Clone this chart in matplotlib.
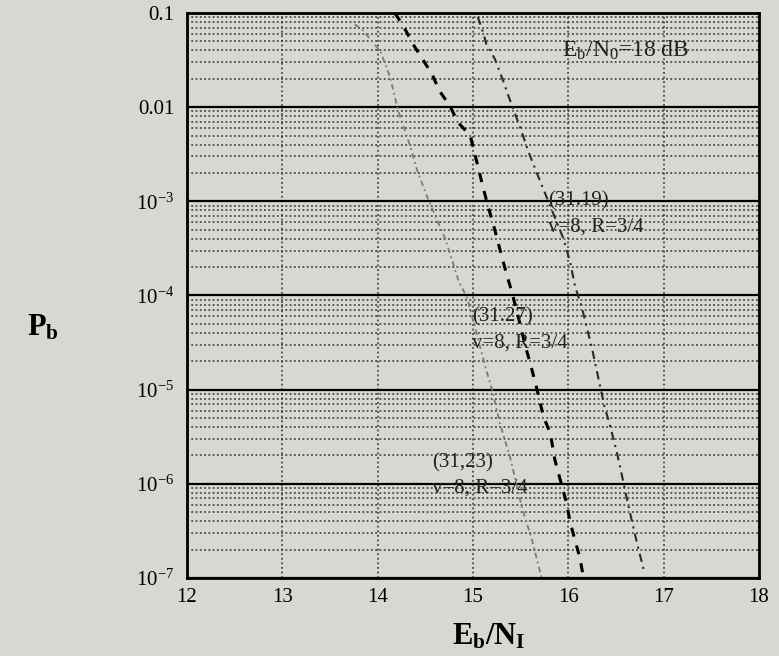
import numpy as np
import matplotlib
matplotlib.use("Agg")
import matplotlib.pyplot as plt
from matplotlib.ticker import LogLocator, NullFormatter

plt.rcParams['font.family'] = ['Liberation Serif', 'DejaVu Serif']
plt.rcParams['mathtext.fontset'] = 'custom'
plt.rcParams['mathtext.rm'] = 'Liberation Serif'
plt.rcParams['mathtext.it'] = 'Liberation Serif:italic'
plt.rcParams['mathtext.bf'] = 'Liberation Serif:bold'

# ---- data ----
# (31,23) code curve (light)
x_23 = [13.76, 13.85, 14.03, 14.13, 14.21, 14.34, 14.42, 14.53, 14.71, 14.85,
        14.94, 15.13, 15.20, 15.28, 15.39, 15.51, 15.62, 15.72]
logp_23 = [-1.12, -1.19, -1.41, -1.68, -2.02, -2.41, -2.69, -2.98, -3.40, -3.85,
           -4.03, -4.76, -5.00, -5.35, -5.72, -6.24, -6.60, -7.00]

# (31,27) code curve (heavy dashed)
x_27 = [14.18, 14.27, 14.37, 14.47, 14.57, 14.65, 14.76, 14.84, 14.97, 15.02,
        15.11, 15.16, 15.22, 15.30, 15.36, 15.41, 15.49, 15.55, 15.60, 15.66,
        15.74, 15.81, 15.86, 15.98, 16.02, 16.07, 16.12, 16.16]
logp_27 = [-1.00, -1.14, -1.33, -1.49, -1.65, -1.83, -1.99, -2.16, -2.30, -2.50,
           -2.87, -3.06, -3.27, -3.58, -3.80, -3.97, -4.29, -4.54, -4.72, -4.95,
           -5.29, -5.46, -5.75, -6.20, -6.41, -6.60, -6.78, -7.00]

# (31,19) code curve (dash-dot)
x_19 = [15.05, 15.11, 15.14, 15.23, 15.32, 15.41, 15.49, 15.58, 15.67, 15.95,
        16.02, 16.07, 16.14, 16.25, 16.32, 16.38, 16.44, 16.51, 16.56, 16.61,
        16.67, 16.73, 16.79]
logp_19 = [-1.04, -1.22, -1.33, -1.49, -1.73, -1.99, -2.20, -2.47, -2.70, -3.40,
           -3.65, -3.90, -4.12, -4.57, -4.90, -5.18, -5.39, -5.67, -5.90, -6.14,
           -6.41, -6.67, -6.91]

x_ticks = [12, 13, 14, 15, 16, 17, 18]
y_ticks = [1e-7, 1e-6, 1e-5, 1e-4, 1e-3, 1e-2, 1e-1]
y_ticklabels = [r'$10^{-7}$', r'$10^{-6}$', r'$10^{-5}$', r'$10^{-4}$',
                r'$10^{-3}$', '0.01', '0.1']

labels_code = ['(31.19)', '(31.27)', '(31,23)']
label_x = [15.79, 14.99, 14.57]
label_logp = [-3.0, -4.23, -5.78]
label_sub = 'v=8, R=3/4'
title_text = r'E$_\mathrm{b}$/N$_0$=18 dB'

bg = '#d6d8d2'
fig = plt.figure(figsize=(7.79, 6.56), dpi=100, facecolor=bg)
ax = fig.add_axes([0.2401, 0.1189, 0.7342, 0.8613], facecolor=bg)

ax.set_yscale('log')
ax.set_xlim(12, 18)
ax.set_ylim(1e-7, 1e-1)

# grid
ax.yaxis.set_minor_locator(LogLocator(base=10, subs=np.arange(2, 10)))
ax.yaxis.set_minor_formatter(NullFormatter())
ax.grid(True, which='minor', axis='y', color='#333333', linestyle=(0, (1.2, 1.6)), linewidth=1.1)
ax.grid(True, which='major', axis='y', color='black', linestyle='-', linewidth=1.6)
ax.grid(True, which='major', axis='x', color='#333333', linestyle=(0, (1.2, 1.8)), linewidth=1.1)

ax.set_xticks(x_ticks)
ax.set_yticks(y_ticks)
ax.set_yticklabels(y_ticklabels)
ax.tick_params(axis='both', which='both', length=0, labelsize=15, colors='black')
ax.tick_params(axis='x', pad=7)
ax.tick_params(axis='y', pad=9)

for s in ax.spines.values():
    s.set_linewidth(2.0)
    s.set_color('black')

# curves
ax.plot(x_23, 10 ** np.array(logp_23), color='#7a7a7a', linestyle=(0, (3, 2, 1, 2)), linewidth=1.3)
ax.plot(x_27, 10 ** np.array(logp_27), color='black', linestyle=(0, (3, 3)), linewidth=2.2)
ax.plot(x_19, 10 ** np.array(logp_19), color='#2a2a2a', linestyle=(0, (4, 2.5, 1, 2.5)), linewidth=1.5)

# annotations
for t, xx, lp in zip(labels_code, label_x, label_logp):
    ax.text(xx, 10 ** lp, t, fontsize=15, ha='left', va='center', color='#222222')
    ax.text(xx, 10 ** (lp - 0.27), label_sub, fontsize=15, ha='left', va='center', color='#222222')

ax.text(15.93, 10 ** -1.40, title_text, fontsize=17, ha='left', va='center', color='#222222')

fig.text(0.035, 1 - 328 / 656, r'$\mathbf{P}_\mathbf{b}$', fontsize=22, ha='left', va='center')
fig.text(0.627, 1 - 637 / 656, r'$\mathbf{E}_\mathbf{b}\mathbf{/N}_\mathbf{I}$', fontsize=22, ha='center', va='center')

fig.savefig('out.png', dpi=100, facecolor=bg)
